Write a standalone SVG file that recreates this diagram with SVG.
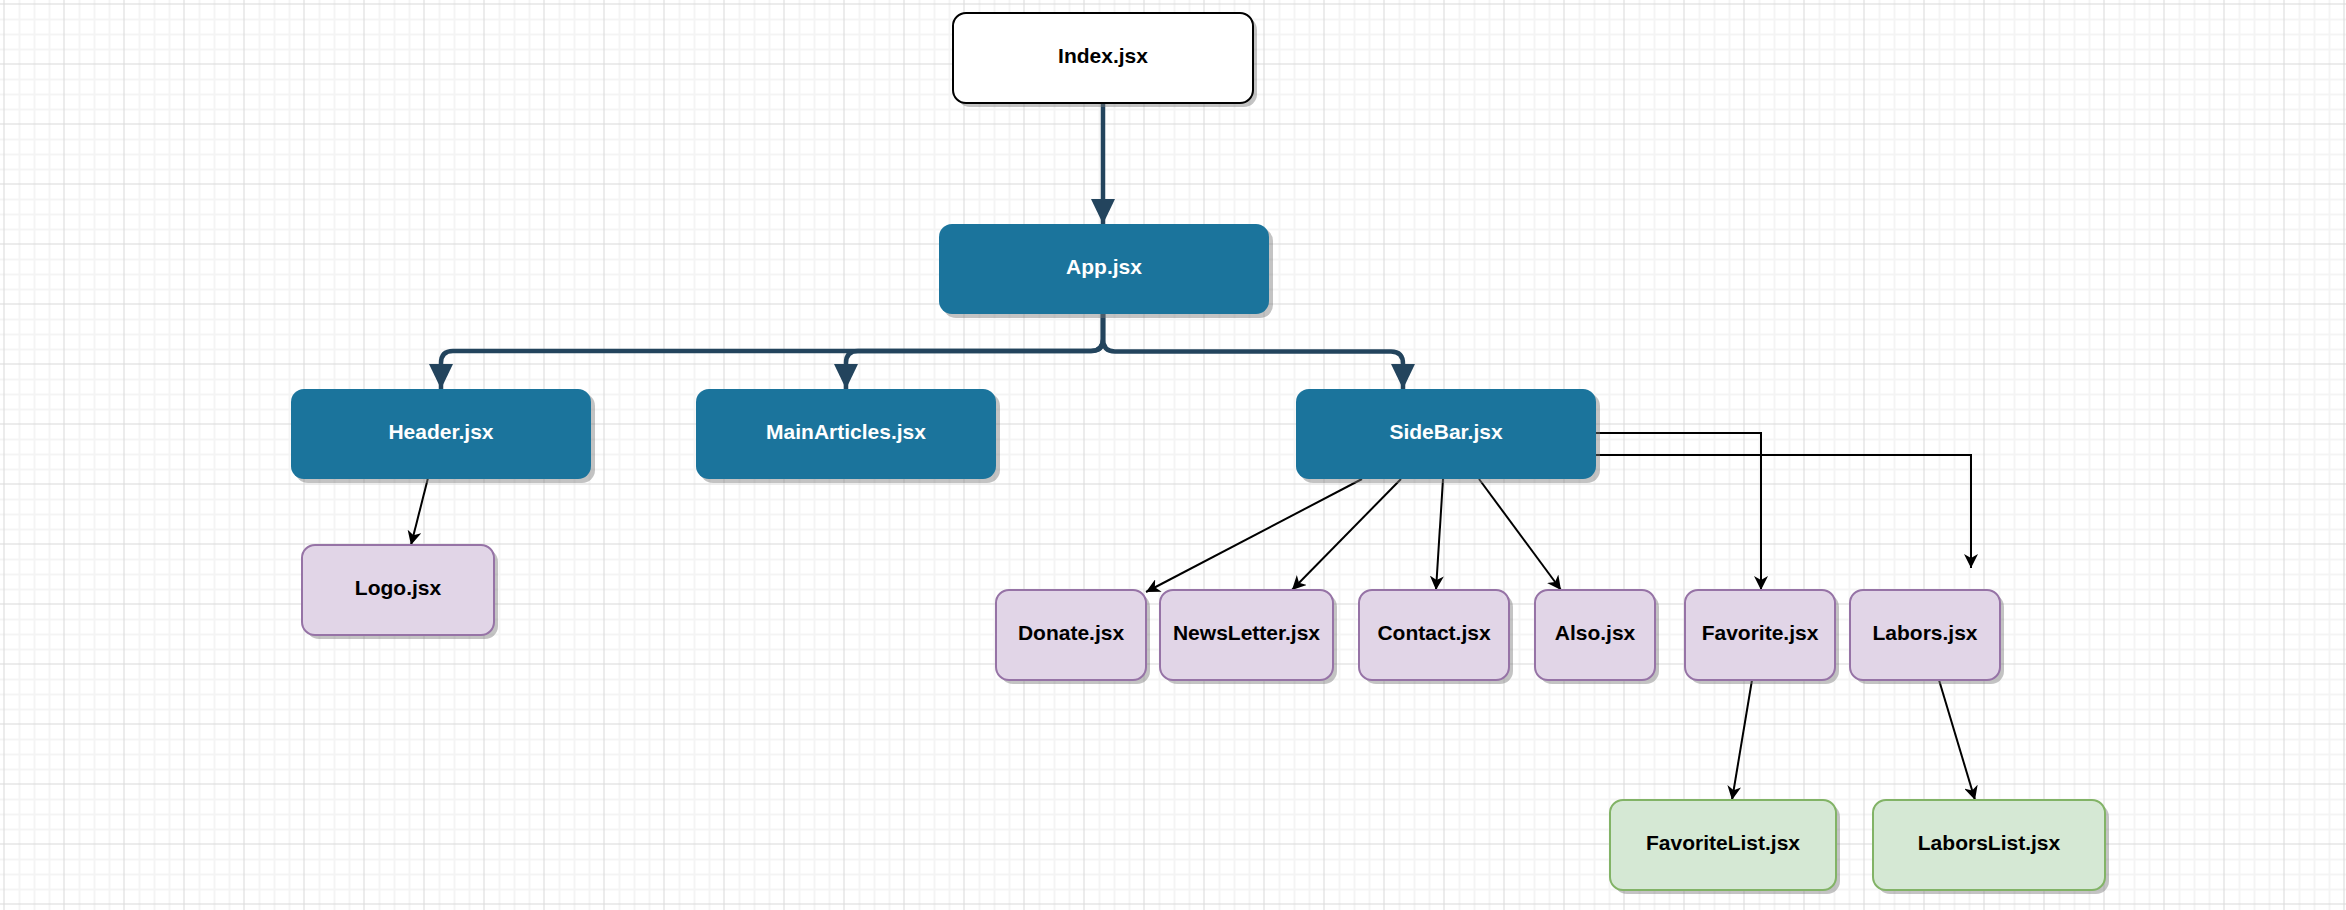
<svg xmlns="http://www.w3.org/2000/svg" width="2346" height="910" viewBox="0 0 2346 910">
<style>
.lbl{font-family:"Liberation Sans",Arial,Helvetica,sans-serif;font-weight:bold;font-size:21px;text-anchor:middle;dominant-baseline:central}
.w{fill:#ffffff}
.k{fill:#000000}
.sh{fill:#7a7a7a;opacity:0.45}
.blue{fill:#1b749c}
.purple{fill:#e1d5e7;stroke:#9673a6;stroke-width:2}
.green{fill:#d5e8d4;stroke:#82b366;stroke-width:2}
.white{fill:#ffffff;stroke:#000000;stroke-width:2}
.thick{fill:none;stroke:#23445d;stroke-width:4.5;stroke-linejoin:round;marker-end:url(#block)}
.thin{fill:none;stroke:#000000;stroke-width:2;marker-end:url(#classic)}
</style>
<defs>
<pattern id="grid" patternUnits="userSpaceOnUse" x="3.5" y="3.5" width="60" height="60">
<rect x="15" y="0" width="2" height="60" fill="#f4f4f4"/>
<rect x="30" y="0" width="2" height="60" fill="#f4f4f4"/>
<rect x="45" y="0" width="2" height="60" fill="#f4f4f4"/>
<rect x="0" y="15" width="60" height="2" fill="#f4f4f4"/>
<rect x="0" y="30" width="60" height="2" fill="#f4f4f4"/>
<rect x="0" y="45" width="60" height="2" fill="#f4f4f4"/>
<rect x="0" y="0" width="1" height="60" fill="#d9d9d9"/>
<rect x="0" y="0" width="60" height="1" fill="#d9d9d9"/>
</pattern>
<marker id="block" markerUnits="userSpaceOnUse" viewBox="0 0 25 24" refX="25" refY="12" markerWidth="25" markerHeight="24" orient="auto">
<path d="M0,0 L25,12 L0,24 Z" fill="#23445d"/>
</marker>
<marker id="classic" markerUnits="userSpaceOnUse" viewBox="0 0 14 14" refX="14" refY="7" markerWidth="14" markerHeight="14" orient="auto">
<path d="M0,0 L14,7 L0,14 L4,7 Z" fill="#000000"/>
</marker>
</defs>
<rect x="0" y="0" width="2346" height="910" fill="#ffffff"/>
<rect x="0" y="0" width="2346" height="910" fill="url(#grid)"/>

<g id="connectors">
<path class="thick" d="M1103,103 V224"/>
<path class="thick" d="M1103,313 V339 Q1103,351 1091,351 H453 Q441,351 441,363 V389"/>
<path class="thick" d="M1103,313 V339 Q1103,351 1091,351 H858 Q846,351 846,363 V389"/>
<path class="thick" d="M1103,313 V339 Q1103,351.5 1115,351.5 H1391 Q1403,351.5 1403,364 V389"/>
<path class="thin" d="M428,478 L411,545"/>
<path class="thin" d="M1362,479 L1146,592"/>
<path class="thin" d="M1401,479 L1292,590"/>
<path class="thin" d="M1443,479 L1436,590"/>
<path class="thin" d="M1479,479 L1561,590"/>
<path class="thin" d="M1596,433 H1761 V590"/>
<path class="thin" d="M1596,455 H1971 V568"/>
<path class="thin" d="M1752,680 L1732,800"/>
<path class="thin" d="M1939,680 L1975,800"/>
</g>

<g id="index">
<rect class="sh" x="957" y="17" width="300" height="90" rx="13"/>
<rect class="white" x="953" y="13" width="300" height="90" rx="13"/>
<text class="lbl k" x="1103" y="55">Index.jsx</text>
</g>
<g id="app">
<rect class="sh" x="943" y="228" width="330" height="90" rx="13"/>
<rect class="blue" x="939" y="224" width="330" height="90" rx="13"/>
<text class="lbl w" x="1104" y="266">App.jsx</text>
</g>
<g id="header">
<rect class="sh" x="295" y="393" width="300" height="90" rx="13"/>
<rect class="blue" x="291" y="389" width="300" height="90" rx="13"/>
<text class="lbl w" x="441" y="431">Header.jsx</text>
</g>
<g id="mainarticles">
<rect class="sh" x="700" y="393" width="300" height="90" rx="13"/>
<rect class="blue" x="696" y="389" width="300" height="90" rx="13"/>
<text class="lbl w" x="846" y="431">MainArticles.jsx</text>
</g>
<g id="sidebar">
<rect class="sh" x="1300" y="393" width="300" height="90" rx="13"/>
<rect class="blue" x="1296" y="389" width="300" height="90" rx="13"/>
<text class="lbl w" x="1446" y="431">SideBar.jsx</text>
</g>
<g id="logo">
<rect class="sh" x="306" y="549" width="192" height="90" rx="13"/>
<rect class="purple" x="302" y="545" width="192" height="90" rx="13"/>
<text class="lbl k" x="398" y="587">Logo.jsx</text>
</g>
<g id="donate">
<rect class="sh" x="1000" y="594" width="150" height="90" rx="13"/>
<rect class="purple" x="996" y="590" width="150" height="90" rx="13"/>
<text class="lbl k" x="1071" y="632">Donate.jsx</text>
</g>
<g id="newsletter">
<rect class="sh" x="1164" y="594" width="173" height="90" rx="13"/>
<rect class="purple" x="1160" y="590" width="173" height="90" rx="13"/>
<text class="lbl k" x="1246.5" y="632">NewsLetter.jsx</text>
</g>
<g id="contact">
<rect class="sh" x="1363" y="594" width="150" height="90" rx="13"/>
<rect class="purple" x="1359" y="590" width="150" height="90" rx="13"/>
<text class="lbl k" x="1434" y="632">Contact.jsx</text>
</g>
<g id="also">
<rect class="sh" x="1539" y="594" width="120" height="90" rx="13"/>
<rect class="purple" x="1535" y="590" width="120" height="90" rx="13"/>
<text class="lbl k" x="1595" y="632">Also.jsx</text>
</g>
<g id="favorite">
<rect class="sh" x="1689" y="594" width="150" height="90" rx="13"/>
<rect class="purple" x="1685" y="590" width="150" height="90" rx="13"/>
<text class="lbl k" x="1760" y="632">Favorite.jsx</text>
</g>
<g id="labors">
<rect class="sh" x="1854" y="594" width="150" height="90" rx="13"/>
<rect class="purple" x="1850" y="590" width="150" height="90" rx="13"/>
<text class="lbl k" x="1925" y="632">Labors.jsx</text>
</g>
<g id="favoritelist">
<rect class="sh" x="1614" y="804" width="226" height="90" rx="13"/>
<rect class="green" x="1610" y="800" width="226" height="90" rx="13"/>
<text class="lbl k" x="1723" y="842">FavoriteList.jsx</text>
</g>
<g id="laborslist">
<rect class="sh" x="1877" y="804" width="232" height="90" rx="13"/>
<rect class="green" x="1873" y="800" width="232" height="90" rx="13"/>
<text class="lbl k" x="1989" y="842">LaborsList.jsx</text>
</g>
</svg>
